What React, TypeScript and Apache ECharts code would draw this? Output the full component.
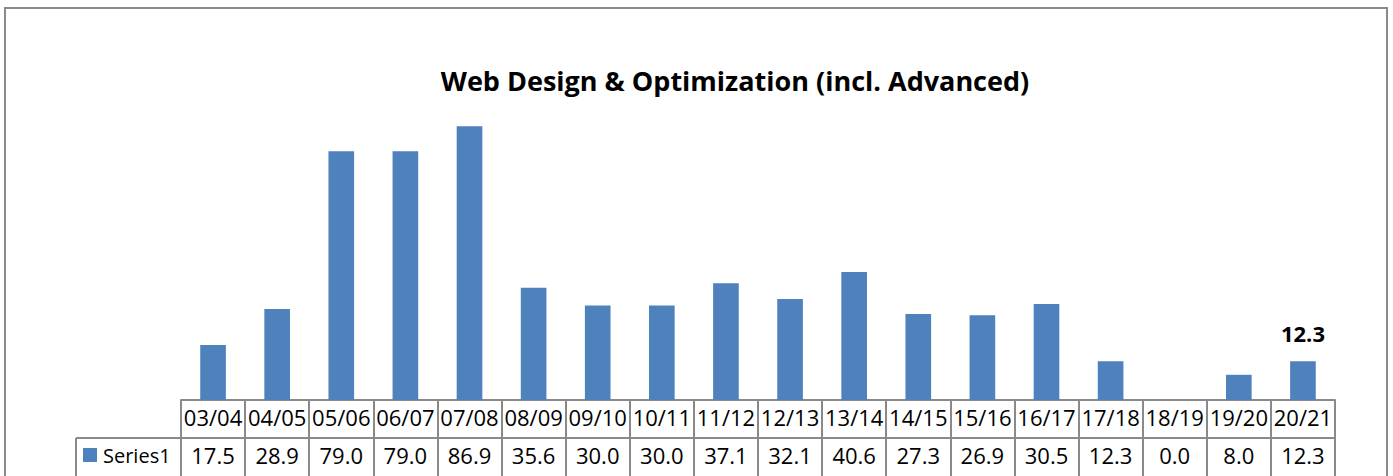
import React, { useEffect, useRef } from "react";
import * as echarts from "echarts";

const categories = [
  "03/04", "04/05", "05/06", "06/07", "07/08", "08/09", "09/10", "10/11", "11/12",
  "12/13", "13/14", "14/15", "15/16", "16/17", "17/18", "18/19", "19/20", "20/21",
];
const series1 = [
  17.5, 28.9, 79.0, 79.0, 86.9, 35.6, 30.0, 30.0, 37.1,
  32.1, 40.6, 27.3, 26.9, 30.5, 12.3, 0.0, 8.0, 12.3,
];
const seriesName = "Series1";
const titleText = "Web Design & Optimization (incl. Advanced)";

const W = 1393;
const H = 476;
const GRID_LEFT = 181;
const GRID_RIGHT = 1335;
const GRID_TOP = 85;
const BASELINE = 400;
const ROW_H = 38;
const BORDER = "#8a8a8a";
const BAR = "#4f81bd";
const FONT = "'Open Sans', 'Noto Sans', sans-serif";

export default function App() {
  const ref = useRef<HTMLDivElement>(null);

  useEffect(() => {
    if (!ref.current) return;
    const chart = echarts.init(ref.current, null, { renderer: "svg" });
    const lastIdx = series1.length - 1;

    chart.setOption({
      animation: false,
      backgroundColor: "#ffffff",
      title: {
        text: titleText,
        left: 730,
        top: 62,
        textAlign: "center",
        textStyle: { fontFamily: FONT, fontSize: 27, fontWeight: "bold", color: "#000" },
      },
      legend: {
        data: [seriesName],
        left: 83,
        top: BASELINE + ROW_H + 7,
        icon: "rect",
        itemWidth: 14,
        itemHeight: 14,
        itemGap: 4,
        textStyle: { fontFamily: FONT, fontSize: 20, color: "#000", padding: [0, 0, 0, 1] },
        padding: 0,
      },
      grid: {
        left: GRID_LEFT,
        right: W - GRID_RIGHT,
        top: GRID_TOP,
        bottom: H - BASELINE,
        containLabel: false,
      },
      xAxis: [
        {
          type: "category",
          data: categories,
          position: "bottom",
          boundaryGap: true,
          axisLine: { show: true, lineStyle: { color: BORDER, width: 2 } },
          axisTick: { show: true, length: ROW_H * 2 + 10, lineStyle: { color: BORDER, width: 2 } },
          axisLabel: { fontFamily: FONT, fontSize: 22, color: "#000", margin: 6, interval: 0 },
        },
        {
          type: "category",
          data: series1.map((v) => v.toFixed(1)),
          position: "bottom",
          offset: ROW_H,
          boundaryGap: true,
          axisLine: { show: true, lineStyle: { color: BORDER, width: 2 } },
          axisTick: { show: false },
          axisLabel: { fontFamily: FONT, fontSize: 22, color: "#000", margin: 6, interval: 0 },
        },
      ],
      yAxis: {
        type: "value",
        min: 0,
        max: 100,
        show: false,
        splitLine: { show: false },
      },
      series: [
        {
          name: seriesName,
          type: "bar",
          xAxisIndex: 0,
          data: series1.map((v, i) => ({
            value: v,
            label: {
              show: i === lastIdx,
              position: "top",
              distance: 17,
              fontFamily: FONT,
              fontSize: 22,
              fontWeight: "bold",
              color: "#000",
              formatter: (p: any) => Number(p.value).toFixed(1),
            },
          })),
          barWidth: "40%",
          itemStyle: { color: BAR },
        },
      ],
      graphic: [
        {
          type: "rect",
          shape: { x: 5, y: 8, width: 1382, height: 600 },
          style: { fill: "none", stroke: BORDER, lineWidth: 2 },
          silent: true,
        },
        {
          type: "line",
          shape: { x1: 76, y1: BASELINE + ROW_H, x2: GRID_LEFT, y2: BASELINE + ROW_H },
          style: { stroke: BORDER, lineWidth: 2 },
          silent: true,
        },
        {
          type: "line",
          shape: { x1: 76, y1: BASELINE + ROW_H, x2: 76, y2: H + 20 },
          style: { stroke: BORDER, lineWidth: 2 },
          silent: true,
        },
      ],
    });

    return () => chart.dispose();
  }, []);

  return (
    <div
      ref={ref}
      style={{ position: "absolute", left: 0, top: 0, width: W, height: H, background: "#fff" }}
    />
  );
}
